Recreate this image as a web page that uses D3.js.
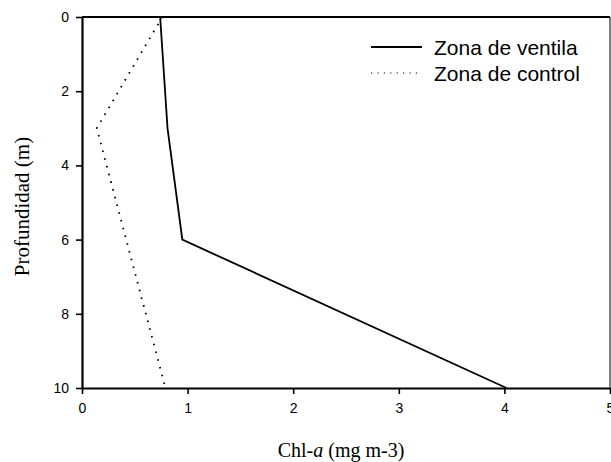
<!DOCTYPE html>
<html>
<head>
<meta charset="utf-8">
<script src="https://cdn.jsdelivr.net/npm/d3@7"></script>
<style>
  body { margin: 0; background: #fff; }
  svg { display: block; }
</style>
</head>
<body>
<svg id="chart"></svg>
<script>
// profile data
const depthVentila = [0, 3, 6, 10];
const chlVentila = [0.74, 0.81, 0.95, 4.02];
const depthControl = [0, 3, 10];
const chlControl = [0.76, 0.14, 0.79];

const xTicks = [0, 1, 2, 3, 4, 5];
const yTicks = [0, 2, 4, 6, 8, 10];
const legendLabels = ["Zona de ventila", "Zona de control"];

const width = 611;
const height = 462;
const margin = { top: 17, right: 1, bottom: 74, left: 82 };

const svg = d3.select("#chart").attr("width", width).attr("height", height);

const x = d3.scaleLinear().domain([0, 5]).range([margin.left, width - margin.right]);
const y = d3.scaleLinear().domain([0, 10]).range([margin.top, height - margin.bottom]);

// frame: top and thin right
svg.append("line")
  .attr("x1", x(0)).attr("x2", x(5)).attr("y1", y(0)).attr("y2", y(0))
  .attr("stroke", "#000").attr("stroke-width", 2);
svg.append("line")
  .attr("x1", x(5)).attr("x2", x(5)).attr("y1", y(0)).attr("y2", y(10))
  .attr("stroke", "#000").attr("stroke-width", 1);

const yAxis = svg.append("g")
  .attr("transform", `translate(${x(0)},0)`)
  .call(d3.axisLeft(y).tickValues(yTicks).tickFormat(d3.format("d"))
    .tickSize(6).tickPadding(7).tickSizeOuter(0));
const xAxis = svg.append("g")
  .attr("transform", `translate(0,${y(10)})`)
  .call(d3.axisBottom(x).tickValues(xTicks).tickFormat(d3.format("d"))
    .tickSize(6).tickPadding(9).tickSizeOuter(0));

[xAxis, yAxis].forEach(g => {
  g.select(".domain").attr("stroke", "#000").attr("stroke-width", 2.2);
  g.selectAll(".tick line").attr("stroke", "#000").attr("stroke-width", 1.6);
  g.selectAll(".tick text")
    .attr("fill", "#000")
    .style("font-family", "Arial, 'Liberation Sans', sans-serif")
    .style("font-size", "14px");
});

const line = d3.line().x(d => x(d[1])).y(d => y(d[0]));

svg.append("path")
  .datum(d3.zip(depthVentila, chlVentila))
  .attr("d", line)
  .attr("fill", "none")
  .attr("stroke", "#000")
  .attr("stroke-width", 1.8);

svg.append("path")
  .datum(d3.zip(depthControl, chlControl))
  .attr("d", line)
  .attr("fill", "none")
  .attr("stroke", "#000")
  .attr("stroke-width", 1.8)
  .attr("stroke-dasharray", "1.6,6.4");

// legend
const legend = svg.append("g").attr("transform", "translate(371,47)");
legendLabels.forEach((label, i) => {
  const row = legend.append("g").attr("transform", `translate(0,${i * 26})`);
  row.append("line")
    .attr("x1", 0).attr("x2", 51)
    .attr("stroke", "#000")
    .attr("stroke-width", i === 0 ? 1.8 : 1.2)
    .attr("stroke-dasharray", i === 0 ? null : "1.2,5.2");
  row.append("text")
    .attr("x", 63).attr("y", 7.5)
    .style("font-family", "Arial, 'Liberation Sans', sans-serif")
    .style("font-size", "21px")
    .text(label);
});

// axis titles
svg.append("text")
  .attr("transform", `translate(29,${(y(0) + y(10)) / 2 + 4}) rotate(-90)`)
  .attr("text-anchor", "middle")
  .style("font-family", "'Times New Roman', 'Liberation Serif', serif")
  .style("font-size", "21px")
  .text("Profundidad (m)");

const xt = svg.append("text")
  .attr("x", 341).attr("y", 457)
  .attr("text-anchor", "middle")
  .style("font-family", "'Times New Roman', 'Liberation Serif', serif")
  .style("font-size", "20px");
xt.append("tspan").text("Chl-");
xt.append("tspan").style("font-style", "italic").text("a");
xt.append("tspan").text(" (mg m-3)");
</script>
</body>
</html>
